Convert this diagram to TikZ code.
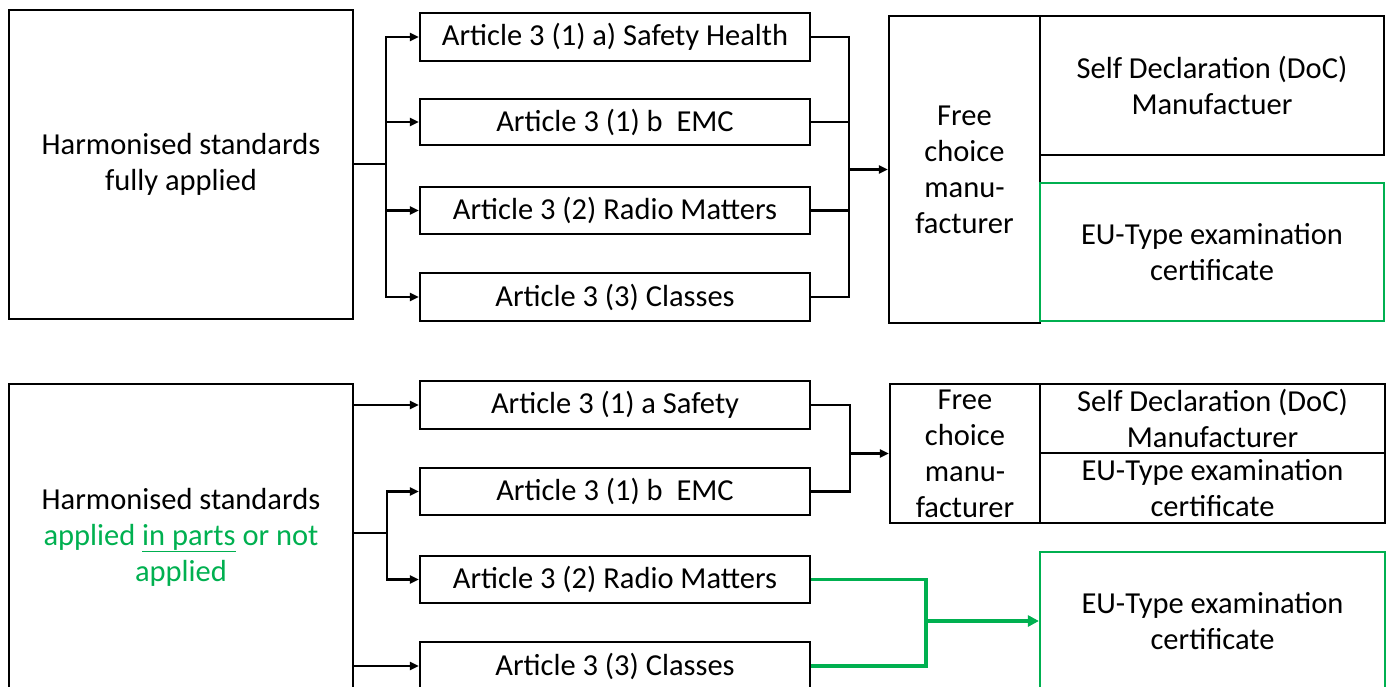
\documentclass[tikz,border=0pt]{standalone}
\usepackage{fontspec}
\setmainfont{Carlito}
\usetikzlibrary{arrows.meta}
\definecolor{eugreen}{RGB}{0,176,80}
\tikzset{
  box/.style={draw=black, line width=2.2pt, inner sep=0pt, align=center, font=\fontsize{30.5}{36}\selectfont},
  gbox/.style={box, draw=eugreen},
  conn/.style={line width=2.2pt, black},
  arr/.style={conn, -{Triangle[length=9pt,width=8pt]}},
  gconn/.style={line width=3.5pt, eugreen},
  garr/.style={gconn, -{Triangle[length=11pt,width=11pt]}},
}
\begin{document}
\begin{tikzpicture}[x=1pt,y=-1pt]
\useasboundingbox (0,0) rectangle (1387,687);
\clip (0,0) rectangle (1387,687);
% ---------- top ----------
\node[box, minimum width=344pt, minimum height=309pt] (L1) at (181,164.5) {Harmonised standards\\fully applied};
\node[box, minimum width=390pt, minimum height=48pt] (A1) at (615,37) {Article 3 (1) a) Safety Health};
\node[box, minimum width=390pt, minimum height=46pt] (A2) at (615,122) {Article 3 (1) b\ \ EMC};
\node[box, minimum width=390pt, minimum height=47pt] (A3) at (615,210.5) {Article 3 (2) Radio Matters};
\node[box, minimum width=390pt, minimum height=48pt] (A4) at (615,297) {Article 3 (3) Classes};
\node[box, minimum width=151pt, minimum height=307pt] (FC1) at (964.5,169.5) {Free\\choice\\manu-\\facturer};
\node[box, minimum width=344pt, minimum height=139pt] (SD1) at (1212,85.5) {Self Declaration (DoC)\\Manufactuer};
\node[gbox, minimum width=344pt, minimum height=138pt] (EU1) at (1212,252) {EU-Type examination\\certificate};
\coordinate (s1) at (386,164);
\coordinate (m1) at (849,169.5);
\draw[conn] (L1.east |- s1) -- (s1);
\draw[arr] (s1) |- (A1.west);
\draw[arr] (s1) |- (A2.west);
\draw[arr] (s1) |- (A3.west);
\draw[arr] (s1) |- (A4.west);
\draw[conn] (A1.east) -| (m1);
\draw[conn] (A2.east) -| (m1);
\draw[conn] (A3.east) -| (m1);
\draw[conn] (A4.east) -| (m1);
\draw[arr] (m1) -- (FC1.west);
% ---------- bottom ----------
\node[box, minimum width=344pt, minimum height=306pt] (L2) at (181,537) {Harmonised standards\\{\color{eugreen}applied \underline{in parts} or not}\\{\color{eugreen}applied}};
\node[box, minimum width=390pt, minimum height=48pt] (B1) at (615,405) {Article 3 (1) a Safety};
\node[box, minimum width=390pt, minimum height=47pt] (B2) at (615,491.5) {Article 3 (1) b\ \ EMC};
\node[box, minimum width=390pt, minimum height=47pt] (B3) at (615,579.5) {Article 3 (2) Radio Matters};
\node[box, minimum width=390pt, minimum height=48pt] (B4) at (615,666) {Article 3 (3) Classes};
\node[box, minimum width=150pt, minimum height=139pt] (FC2) at (965,453.5) {Free\\choice\\manu-\\facturer};
\node[box, minimum width=345pt, minimum height=69pt] (SD2) at (1212.5,418.5) {Self Declaration (DoC)\\Manufacturer};
\node[box, minimum width=345pt, minimum height=70pt] (EU2) at (1212.5,488) {EU-Type examination\\certificate};
\node[gbox, minimum width=345pt, minimum height=138pt] (EU3) at (1212.5,621) {EU-Type examination\\certificate};
\coordinate (s2) at (387,533);
\coordinate (m2) at (850,453.5);
\coordinate (g) at (926,621);
\draw[arr] (L2.east |- B1.west) -- (B1.west);
\draw[conn] (L2.east |- s2) -- (s2);
\draw[arr] (s2) |- (B2.west);
\draw[arr] (s2) |- (B3.west);
\draw[arr] (L2.east |- B4.west) -- (B4.west);
\draw[conn] (B1.east) -| (m2);
\draw[conn] (B2.east) -| (m2);
\draw[arr] (m2) -- (FC2.west);
\draw[gconn] (B3.east) -| (g);
\draw[gconn] (B4.east) -| (g);
\draw[garr] (g) -- (EU3.west);
\end{tikzpicture}
\end{document}
